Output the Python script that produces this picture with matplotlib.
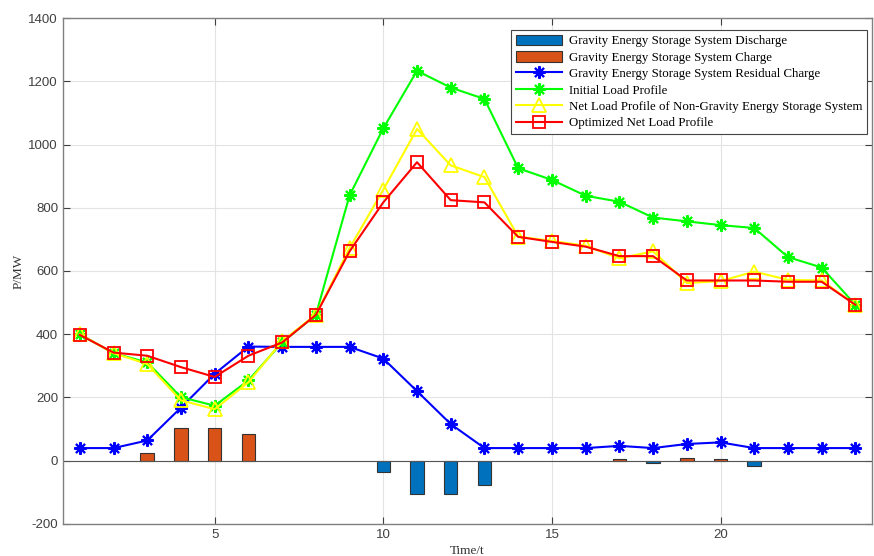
import matplotlib
matplotlib.use("Agg")
import matplotlib.pyplot as plt
import numpy as np

plt.rcParams["axes.unicode_minus"] = False

t = list(range(1, 25))
discharge = [0, 0, 0, 0, 0, 0, 0, 0, 0, -37, -104, -104, -77, 0, 0, 0, 0, -7, 0, 0, -18, 0, 0, 0]
charge = [0, 0, 24, 103, 103, 85, 0, 0, 0, 0, 0, 0, 0, 0, 0, 0, 5, 0, 10, 5, 0, 0, 0, 0]
residual = [40, 40, 64, 168, 275, 361, 360, 360, 360, 323, 220, 116, 40, 40, 40, 40, 47, 40, 53, 58, 40, 40, 40, 40]
initial = [400, 340, 311, 201, 174, 254, 374, 461, 839, 1051, 1233, 1180, 1144, 925, 888, 838, 819, 769, 757, 745, 736, 644, 611, 493]
net_nongess = [400, 340, 306, 191, 163, 248, 378, 462, 672, 857, 1049, 934, 897, 709, 695, 680, 640, 662, 562, 568, 598, 572, 570, 493]
optimized = [398, 342, 332, 296, 265, 332, 374, 461, 662, 817, 944, 824, 817, 708, 692, 677, 647, 647, 570, 570, 570, 566, 566, 493]

labels = ["Gravity Energy Storage System Discharge",
          "Gravity Energy Storage System Charge",
          "Gravity Energy Storage System Residual Charge",
          "Initial Load Profile",
          "Net Load Profile of Non-Gravity Energy Storage System",
          "Optimized Net Load Profile"]

fig = plt.figure(figsize=(8.74, 5.56), dpi=100)
ax = fig.add_axes([0.072, 0.0576, 0.926, 0.91])

tick_font = "Liberation Sans"
serif = "Liberation Serif"

tt = np.array(t)
d = np.array(discharge)
c = np.array(charge)
md = d != 0
mc = c != 0

h1 = ax.bar(tt[md], d[md], width=0.4, color="#0072BD", edgecolor="#333333", linewidth=0.8, label=labels[0], zorder=2)
h2 = ax.bar(tt[mc], c[mc], width=0.4, color="#D95319", edgecolor="#333333", linewidth=0.8, label=labels[1], zorder=2)
ax.axhline(0, color="#555555", linewidth=0.8, zorder=2.5)

ast = (8, 2, 0)
h3, = ax.plot(t, residual, color="#0000FF", lw=1.5, marker=ast, ms=9, mew=1.5, label=labels[2], zorder=3)
h4, = ax.plot(t, initial, color="#00FF00", lw=1.5, marker=ast, ms=9, mew=1.5, label=labels[3], zorder=3)
h5, = ax.plot(t, net_nongess, color="#FFFF00", lw=1.5, marker="^", ms=10, mfc="none", mew=1.3, label=labels[4], zorder=3)
h6, = ax.plot(t, optimized, color="#FF0000", lw=1.5, marker="s", ms=8, mfc="none", mew=1.3, label=labels[5], zorder=3)

ax.set_xlim(0.5, 24.5)
ax.set_ylim(-200, 1400)
ax.set_xticks([5, 10, 15, 20])
ax.set_yticks(np.arange(-200, 1401, 200))
ax.grid(True, color="#e3e3e3", linewidth=0.8, zorder=0)
ax.set_axisbelow(True)
ax.tick_params(direction="in", length=5, colors="#404040", labelsize=9.5, top=True, right=True)
for lab in ax.get_xticklabels() + ax.get_yticklabels():
    lab.set_fontfamily(tick_font)
for s in ax.spines.values():
    s.set_color("#808080")
    s.set_linewidth(1.0)

ax.set_xlabel("Time/t", fontfamily=serif, fontsize=9.5, labelpad=3, color="#333333")
ax.set_ylabel("P/MW", fontfamily=serif, fontsize=9.5, labelpad=3, color="#333333")

leg = ax.legend(handles=[h1, h2, h3, h4, h5, h6], labels=labels,
                loc="upper right", bbox_to_anchor=(0.998, 0.984), prop={"family": serif, "size": 9.3},
                frameon=True, fancybox=False, edgecolor="#444444", framealpha=1,
                handlelength=3.6, handleheight=0.9, handletextpad=0.5, labelspacing=0.28, borderpad=0.35, borderaxespad=0.3)
leg.get_frame().set_linewidth(0.8)

fig.savefig("out.png", dpi=100)
